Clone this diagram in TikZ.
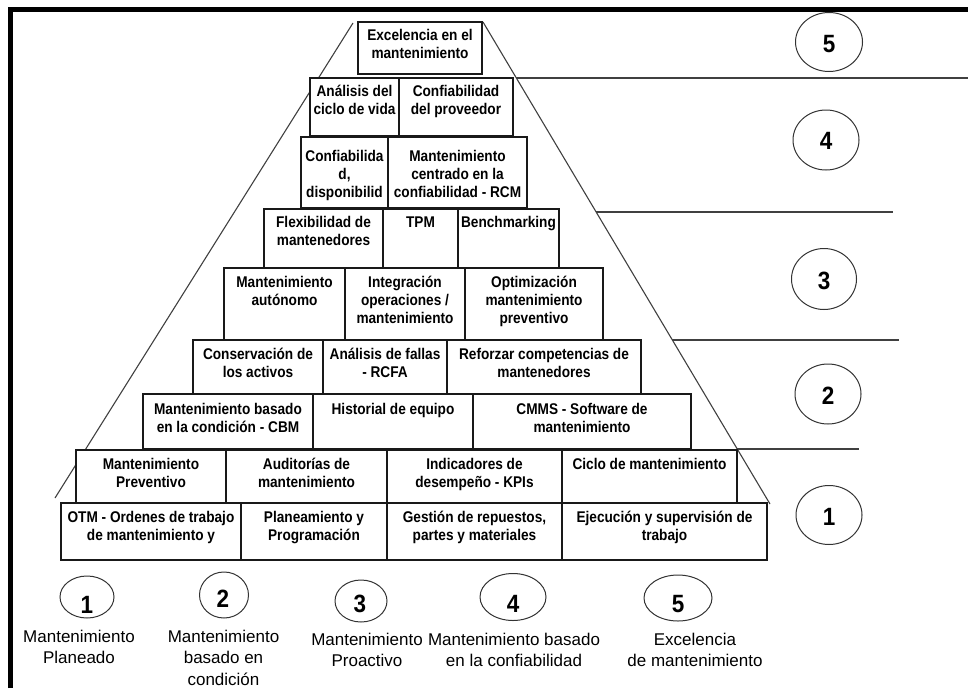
\documentclass[tikz,border=0pt]{standalone}
\usepackage{fontspec}
\newfontfamily\bfont{Liberation Sans}[FakeStretch=0.88]
\newfontfamily\dfont{Liberation Sans}[FakeStretch=0.9]
\newfontfamily\lfont{Liberation Sans}
\tikzset{
  bxs/.style={rectangle, draw=black!90, line width=1.2pt, fill=white, inner sep=0pt, outer sep=0pt},
  bxt/.style={inner sep=0pt, align=center, font=\bfont\bfseries\fontsize{15.5}{18}\selectfont},
  lab/.style={inner sep=0pt, align=center, font=\lfont\fontsize{17}{21.5}\selectfont, anchor=north},
  ell/.style={ellipse, draw=black!80, line width=1pt, inner sep=0pt},
  dig/.style={inner sep=0pt, font=\dfont\bfseries\fontsize{25}{25}\selectfont},
  pline/.style={draw=black!75, line width=1.1pt},
  frame/.style={draw=black, line width=4.5pt}
}
\usetikzlibrary{shapes.geometric}
\newcommand\pbx[7]{%
  \node[bxs, minimum width={#4-#2}, minimum height={#5-#3}, anchor=north west] (#1) at (#2,#3) {};
  \node[bxt, anchor=north] (#1t) at ([yshift={-(#6-14)*1pt}]#1.north) {\rule{0pt}{14pt}#7};
}
\begin{document}
\begin{tikzpicture}[x=1pt,y=-1pt]
\useasboundingbox (0,0) rectangle (968,688);
% pyramid sides and level lines
\coordinate (lt) at (353,23);
\coordinate (lb) at (55,498);
\coordinate (rt) at (483,22);
\coordinate (rb) at (770,504);
\path[pline] (lt) -- (lb);
\path[pline] (rt) -- (rb);
\coordinate (h1a) at (516,78);  \coordinate (h1b) at (968,78);
\coordinate (h2a) at (596,212); \coordinate (h2b) at (893,212);
\coordinate (h3a) at (672,340); \coordinate (h3b) at (899,340);
\coordinate (h4a) at (737,449); \coordinate (h4b) at (859,449);
\path[pline] (h1a) -- (h1b);
\path[pline] (h2a) -- (h2b);
\path[pline] (h3a) -- (h3b);
\path[pline] (h4a) -- (h4b);
% boxes
\pbx{e1}{358}{22}{482}{74}{18}{Excelencia en el\\mantenimiento}
\pbx{a1}{310}{78}{399}{136}{18}{Análisis del\\ciclo de vida}
\pbx{a2}{399}{78}{513}{136}{18}{Confiabilidad\\del proveedor}
\pbx{c1}{301}{137}{388}{208}{24}{Confiabilida\\d,\\disponibilid}
\pbx{c2}{388}{137}{527}{208}{24}{Mantenimiento\\centrado en la\\confiabilidad - RCM}
\pbx{f1}{264}{209}{383}{268}{18}{Flexibilidad de\\mantenedores}
\pbx{f2}{383}{209}{458}{268}{18}{TPM}
\pbx{f3}{458}{209}{559}{268}{18}{Benchmarking}
\pbx{m1}{224}{268}{345}{340}{19}{Mantenimiento\\autónomo}
\pbx{m2}{345}{268}{465}{340}{19}{Integración\\operaciones /\\mantenimiento}
\pbx{m3}{465}{268}{603}{340}{19}{Optimización\\mantenimiento\\preventivo}
\pbx{k1}{193}{340}{323}{394}{19}{Conservación de\\los activos}
\pbx{k2}{323}{340}{447}{394}{19}{Análisis de fallas\\- RCFA}
\pbx{k3}{447}{340}{641}{394}{19}{Reforzar competencias de\\mantenedores}
\pbx{h1}{143}{394}{313}{449}{20}{Mantenimiento basado\\en la condición - CBM}
\pbx{h2}{313}{394}{473}{449}{20}{Historial de equipo}
\pbx{h3}{473}{394}{691}{449}{20}{CMMS - Software de\\mantenimiento}
\pbx{p1}{76}{450}{226}{503}{19}{Mantenimiento\\Preventivo}
\pbx{p2}{226}{450}{387}{503}{19}{Auditorías de\\mantenimiento}
\pbx{p3}{387}{450}{562}{503}{19}{Indicadores de\\desempeño - KPIs}
\pbx{p4}{562}{450}{737}{503}{19}{Ciclo de mantenimiento}
\pbx{o1}{61}{503}{241}{560}{19}{OTM - Ordenes de trabajo\\de mantenimiento y}
\pbx{o2}{241}{503}{387}{560}{19}{Planeamiento y\\Programación}
\pbx{o3}{387}{503}{562}{560}{19}{Gestión de repuestos,\\partes y materiales}
\pbx{o4}{562}{503}{767}{560}{19}{Ejecución y supervisión de\\trabajo}
% right level circles
\node[ell, minimum width=67pt, minimum height=59pt] (r5) at (829,42) {};
\node[dig] (r5n) at (829,44) {5};
\node[ell, minimum width=66pt, minimum height=60pt] (r4) at (826,140) {};
\node[dig] (r4n) at (826,141) {4};
\node[ell, minimum width=65pt, minimum height=61pt] (r3) at (824,279) {};
\node[dig] (r3n) at (824,280.5) {3};
\node[ell, minimum width=66pt, minimum height=60pt] (r2) at (828,394) {};
\node[dig] (r2n) at (828,396) {2};
\node[ell, minimum width=66pt, minimum height=59pt] (r1) at (829,515) {};
\node[dig] (r1n) at (829,517) {1};
% bottom circles
\node[ell, minimum width=54pt, minimum height=42pt] (b1) at (87,597) {};
\node[dig] (b1n) at (87,605) {1};
\node[ell, minimum width=49pt, minimum height=46pt] (b2) at (224,595) {};
\node[dig] (b2n) at (223,599) {2};
\node[ell, minimum width=52pt, minimum height=42pt] (b3) at (361,601) {};
\node[dig] (b3n) at (360,604) {3};
\node[ell, minimum width=66pt, minimum height=47pt] (b4) at (513,597) {};
\node[dig] (b4n) at (513,603.5) {4};
\node[ell, minimum width=68pt, minimum height=46pt] (b5) at (678,598) {};
\node[dig] (b5n) at (678,604) {5};
% bottom labels
\node[lab] (l1) at (79,628) {\rule{0pt}{14pt}Mantenimiento\\Planeado};
\node[lab] (l2) at (223.5,628) {\rule{0pt}{14pt}Mantenimiento\\basado en\\condición};
\node[lab] (l3) at (367,631) {\rule{0pt}{14pt}Mantenimiento\\Proactivo};
\node[lab] (l4) at (514,631) {\rule{0pt}{14pt}Mantenimiento basado\\en la confiabilidad};
\node[lab] (l5) at (695,631) {\rule{0pt}{14pt}Excelencia\\de mantenimiento};
% frame
\coordinate (fa) at (10.7,688);
\coordinate (fb) at (10.7,9.5);
\coordinate (fc) at (968,9.5);
\path[frame] (fa) -- (fb) -- (fc);
\end{tikzpicture}
\end{document}
